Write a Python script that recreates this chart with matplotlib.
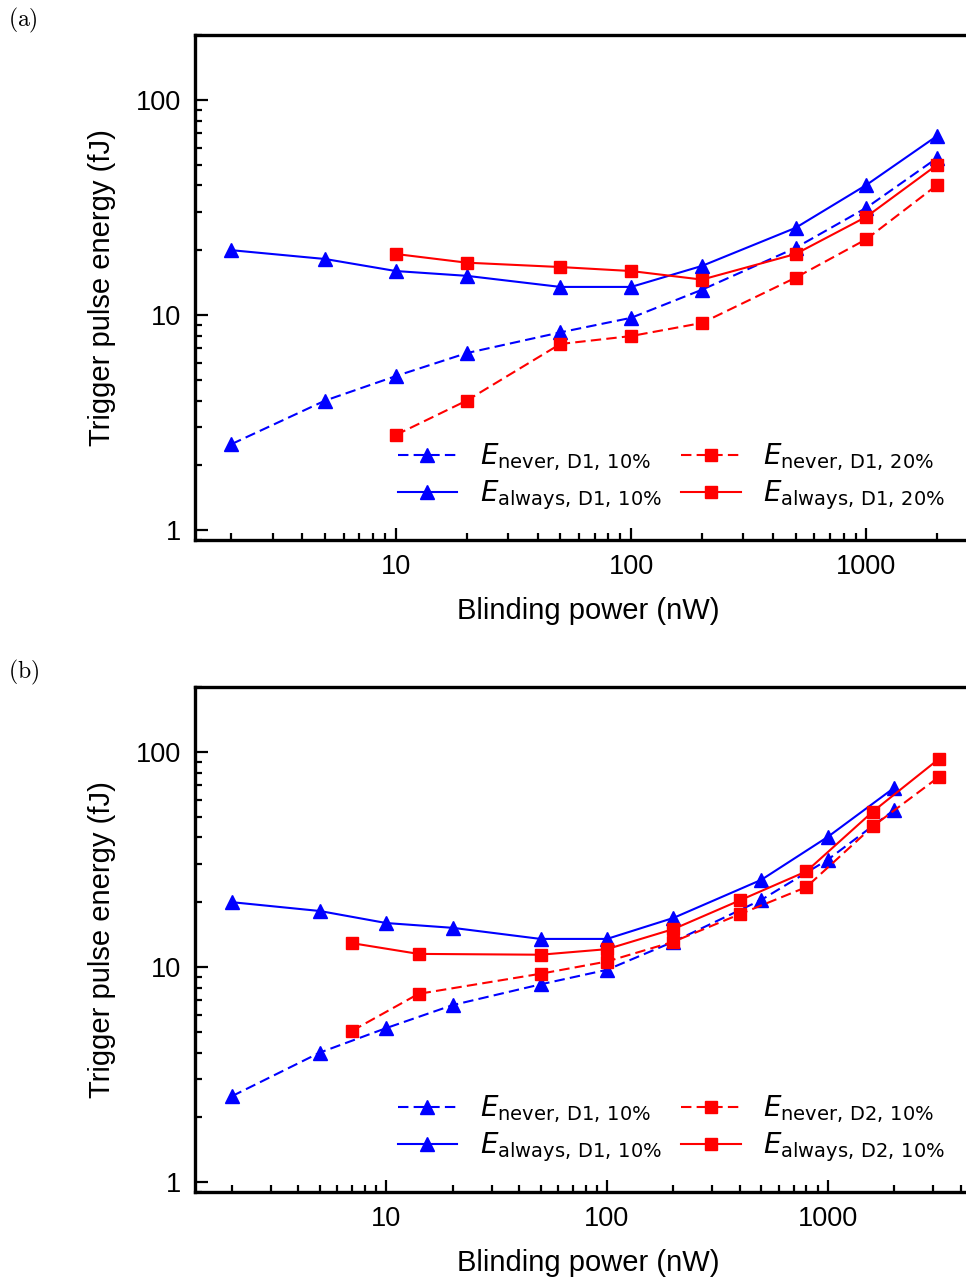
import matplotlib
matplotlib.use("Agg")
import matplotlib.pyplot as plt
import numpy as np
from matplotlib.ticker import LogLocator, NullFormatter, FixedLocator, FixedFormatter

plt.rcParams['font.family'] = ['Liberation Sans', 'DejaVu Sans']

# Panel (a) data
x_a = [2, 5, 10, 20, 50, 100, 200, 500, 1000, 2000]
never_d1_10 = [2.51, 4.0, 5.2, 6.65, 8.3, 9.7, 13.1, 20.5, 31.5, 53.7]
always_d1_10 = [20.0, 18.2, 16.0, 15.2, 13.5, 13.5, 16.9, 25.4, 40.2, 68.0]
x_a20 = [10, 20, 50, 100, 200, 500, 1000, 2000]
never_d1_20 = [2.77, 4.0, 7.33, 7.98, 9.18, 14.9, 22.5, 40.2]
always_d1_20 = [19.2, 17.5, 16.7, 16.0, 14.6, 19.2, 28.6, 49.9]

# Panel (b) data
x_d2 = [7, 14, 50, 100, 200, 400, 800, 1600, 3200]
never_d2_10 = [5.05, 7.5, 9.3, 10.6, 13.1, 17.6, 23.5, 45.0, 76.6]
always_d2_10 = [12.9, 11.5, 11.4, 12.1, 15.0, 20.4, 27.8, 52.7, 92.9]

lab_never_d1_10 = r'$E_{\mathrm{never,\,D1,\,10\%}}$'
lab_always_d1_10 = r'$E_{\mathrm{always,\,D1,\,10\%}}$'
lab_never_d1_20 = r'$E_{\mathrm{never,\,D1,\,20\%}}$'
lab_always_d1_20 = r'$E_{\mathrm{always,\,D1,\,20\%}}$'
lab_never_d2_10 = r'$E_{\mathrm{never,\,D2,\,10\%}}$'
lab_always_d2_10 = r'$E_{\mathrm{always,\,D2,\,10\%}}$'

W, H = 966, 1282
fig = plt.figure(figsize=(W / 100, H / 100), dpi=100)

def px_axes(left, top, right, bottom):
    return fig.add_axes([left / W, 1 - bottom / H, (right - left) / W, (bottom - top) / H])

ax_a = px_axes(195, 35, 982, 540)
ax_b = px_axes(195, 687, 982, 1192)

blue = (0, 0, 1)
red = (1, 0, 0)
lw = 1.5
dash = (0, (5, 2.5))

def style(ax, xlim):
    ax.set_xscale('log')
    ax.set_yscale('log')
    ax.set_xlim(*xlim)
    ax.set_ylim(0.9, 200)
    for s in ['left', 'bottom', 'top', 'right']:
        ax.spines[s].set_linewidth(2.4)
    ax.tick_params(which='both', direction='in', top=False, right=False,
                   width=1.6, labelsize=19.5, pad=10)
    ax.tick_params(which='major', length=9)
    ax.tick_params(which='minor', length=5)
    ax.xaxis.set_major_locator(FixedLocator([10, 100, 1000]))
    ax.xaxis.set_major_formatter(FixedFormatter(['10', '100', '1000']))
    ax.yaxis.set_major_locator(FixedLocator([1, 10, 100]))
    ax.yaxis.set_major_formatter(FixedFormatter(['1', '10', '100']))
    ax.xaxis.set_minor_locator(LogLocator(base=10, subs=np.arange(2, 10), numticks=20))
    ax.yaxis.set_minor_locator(LogLocator(base=10, subs=np.arange(2, 10), numticks=20))
    ax.xaxis.set_minor_formatter(NullFormatter())
    ax.yaxis.set_minor_formatter(NullFormatter())
    ax.set_xlabel('Blinding power (nW)', fontsize=21, labelpad=12)
    ax.set_ylabel('Trigger pulse energy (fJ)', fontsize=21, labelpad=14)

# Panel (a)
ax_a.plot(x_a, never_d1_10, color=blue, ls=dash, lw=lw, marker='^', ms=10.5, label=lab_never_d1_10)
ax_a.plot(x_a, always_d1_10, color=blue, ls='-', lw=lw, marker='^', ms=10.5, label=lab_always_d1_10)
ax_a.plot(x_a20, never_d1_20, color=red, ls=dash, lw=lw, marker='s', ms=9, label=lab_never_d1_20)
ax_a.plot(x_a20, always_d1_20, color=red, ls='-', lw=lw, marker='s', ms=9, label=lab_always_d1_20)
style(ax_a, (1.4, 3100))

# Panel (b)
ax_b.plot(x_a, never_d1_10, color=blue, ls=dash, lw=lw, marker='^', ms=10.5, label=lab_never_d1_10)
ax_b.plot(x_a, always_d1_10, color=blue, ls='-', lw=lw, marker='^', ms=10.5, label=lab_always_d1_10)
ax_b.plot(x_d2, never_d2_10, color=red, ls=dash, lw=lw, marker='s', ms=9, label=lab_never_d2_10)
ax_b.plot(x_d2, always_d2_10, color=red, ls='-', lw=lw, marker='s', ms=9, label=lab_always_d2_10)
style(ax_b, (1.36, 5000))

for ax in (ax_a, ax_b):
    ax.legend(ncol=2, frameon=False, fontsize=20, loc='lower right',
              bbox_to_anchor=(0.967, 0.033), handlelength=2.15, handletextpad=0.8,
              columnspacing=0.7, labelspacing=0.2, borderaxespad=0.0)

fig.text(8 / W, 1 - 20 / H, r'$\mathrm{(a)}$', fontsize=17, va='center', ha='left', math_fontfamily='cm')
fig.text(8 / W, 1 - 672 / H, r'$\mathrm{(b)}$', fontsize=17, va='center', ha='left', math_fontfamily='cm')

fig.savefig('out.png', dpi=100)
